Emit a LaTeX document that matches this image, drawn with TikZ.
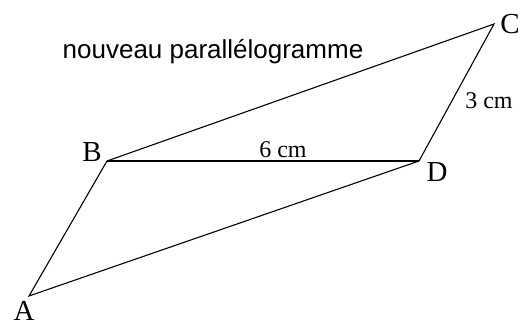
\documentclass[tikz,border=0pt]{standalone}
\usepackage{fontspec}
\setmainfont{Liberation Serif}
\newfontfamily\labelsans{Liberation Sans}
\begin{document}
\begin{tikzpicture}[x=1pt,y=-1pt,
  edge/.style={line width=1.1pt, line join=miter},
  bold/.style={line width=2pt},
  vlabel/.style={font=\fontsize{29}{30}\selectfont, inner sep=0pt},
  mlabel/.style={font=\fontsize{24}{26}\selectfont, inner sep=0pt},
  title/.style={font=\labelsans\fontsize{26}{28}\selectfont, inner sep=0pt}]
\fill[white] (0,0) rectangle (520,327);
\useasboundingbox (0,0) rectangle (520,327);
\coordinate (A) at (29,296);
\coordinate (B) at (107,161);
\coordinate (D) at (419,161);
\coordinate (C) at (494,24);
\draw[edge] (A) -- (B) -- (C) -- (D) -- cycle;
\draw[bold] (B) -- (D);
\node[vlabel] (lA) at (24,311) {A};
\node[vlabel] (lB) at (92,152) {B};
\node[vlabel] (lD) at (437,172) {D};
\node[vlabel] (lC) at (510,24) {C};
\node[mlabel] (l6) at (283,150) {6 cm};
\node[mlabel] (l3) at (489,101) {3 cm};
\node[title] (t) at (213,52) {nouveau parallélogramme};
\end{tikzpicture}
\end{document}
